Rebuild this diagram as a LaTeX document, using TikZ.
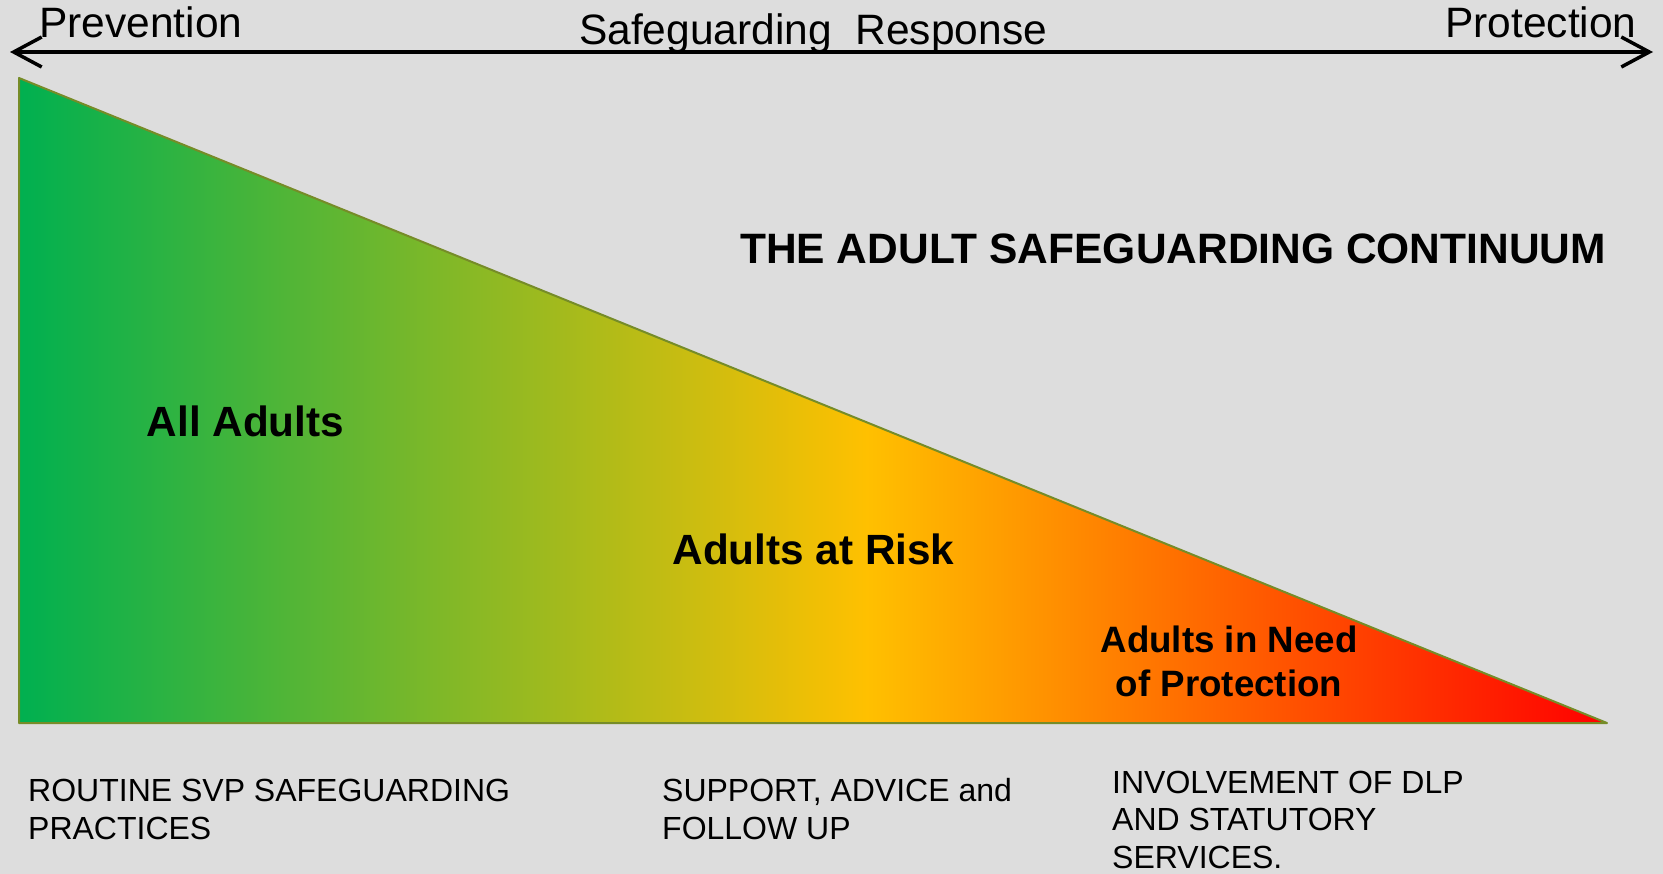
\documentclass[tikz,border=0pt]{standalone}
\usepackage{fontspec}
\setmainfont{Liberation Sans}
\usetikzlibrary{arrows.meta}

\definecolor{bgc}{RGB}{221,221,221}
\definecolor{cgreen}{RGB}{0,176,80}
\definecolor{cyellow}{RGB}{255,192,0}
\definecolor{cred}{RGB}{255,0,0}
\definecolor{cedge}{RGB}{118,140,40}

% green -> amber -> red across the continuum (inner 25bp..75bp band spans the path)
\pgfdeclarehorizontalshading{continuum}{100bp}{color(0bp)=(cgreen); color(25bp)=(cgreen); color(51.7bp)=(cyellow); color(75bp)=(cred); color(100bp)=(cred)}

\tikzset{
  lbl/.style={inner sep=0pt, anchor=base west, text=black},
  toplbl/.style={lbl, font=\fontsize{42.5}{50}\selectfont},
  zonelbl/.style={inner sep=0pt, anchor=base, text=black, font=\bfseries\fontsize{42.3}{50}\selectfont},
  smallzone/.style={inner sep=0pt, anchor=base, align=center, text=black, font=\bfseries\fontsize{36.7}{44}\selectfont},
  actionlbl/.style={lbl, align=left, font=\fontsize{32}{37.5}\selectfont},
  axisline/.style={line width=3.5pt, black,
    {Straight Barb[length=28pt,width=30pt]}-{Straight Barb[length=28pt,width=30pt]}},
  wedge/.style={draw=cedge, line width=2pt, line join=round, shading=continuum}
}

\begin{document}
\begin{tikzpicture}[x=1pt,y=-1pt]
  \useasboundingbox (0,0) rectangle (1663,874);
  \fill[bgc] (0,0) rectangle (1663,874);

  % response axis
  \coordinate (axL) at (10,52);
  \coordinate (axR) at (1653,52);
  \draw[axisline] (axL) -- (axR);
  \node[toplbl] (prev) at (39,38) {Prevention};
  \node[toplbl] (resp) at (579,45) {Safeguarding\ \ Response};
  \node[toplbl] (prot) at (1445,38) {Protection};

  % the continuum wedge
  \coordinate (tA) at (19,78);
  \coordinate (tB) at (19,723);
  \coordinate (tC) at (1607,723);
  \path[wedge] (tA) -- (tB) -- (tC) -- cycle;

  \node[lbl, font=\bfseries\fontsize{42.5}{50}\selectfont] (title) at (740,264) {THE ADULT SAFEGUARDING CONTINUUM};

  \node[zonelbl] (all) at (245.5,437) {All Adults};
  \node[zonelbl] (risk) at (813.5,564) {Adults at Risk};
  % multi-line nodes are placed by the baseline of their last line
  \node[smallzone] (need) at (1229,696) {Adults in Need\\of Protection};

  % responses at each stage
  \node[actionlbl] (routine) at (28,839) {ROUTINE SVP SAFEGUARDING\\PRACTICES};
  \node[actionlbl] (support) at (662,839) {SUPPORT, ADVICE and\\FOLLOW UP};
  \node[actionlbl] (involve) at (1112,868) {INVOLVEMENT OF DLP\\AND STATUTORY\\SERVICES.};
\end{tikzpicture}
\end{document}
